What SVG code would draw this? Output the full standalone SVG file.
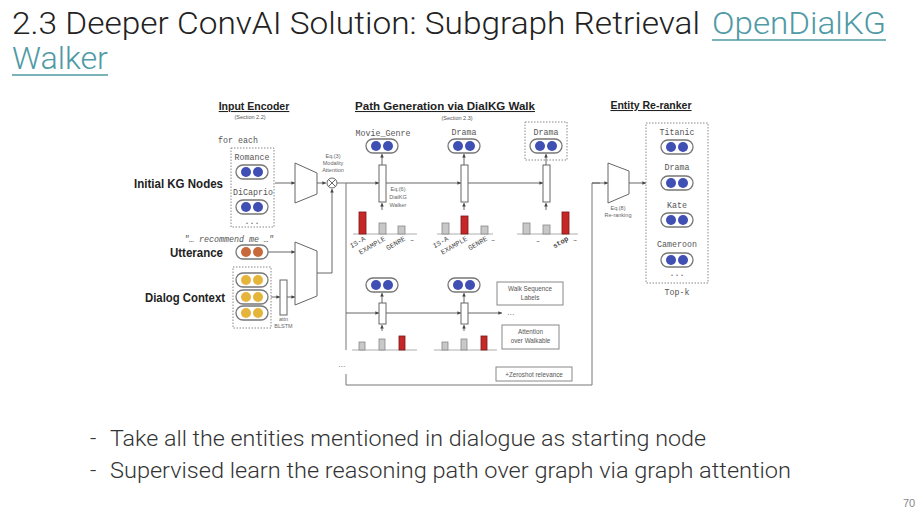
<svg xmlns="http://www.w3.org/2000/svg" width="920" height="510" viewBox="0 0 920 510">
<style>
.ttl{font-family:Roboto,"Open Sans","Liberation Sans",sans-serif;font-weight:300;font-size:31px;fill:#222}
.lnk{fill:#4f9aa5}
.bul{font-family:Roboto,"Open Sans","Liberation Sans",sans-serif;font-weight:300;font-size:22px;fill:#333}
.hdr{font-family:"Liberation Sans",Arial,sans-serif;font-weight:bold;font-size:10.5px;fill:#222;text-decoration:underline}
.sec{font-family:"Liberation Sans",Arial,sans-serif;font-size:5.5px;fill:#555}
.big{font-family:"Liberation Sans",Arial,sans-serif;font-weight:bold;font-size:12px;fill:#222}
.mono{font-family:"Liberation Mono","DejaVu Sans Mono",monospace;font-size:8.3px;fill:#555}
.rl{font-family:"Liberation Mono","DejaVu Sans Mono",monospace;font-size:7px;fill:#444}
.sm{font-family:"Liberation Sans",Arial,sans-serif;font-size:5.5px;fill:#666}
.dots{font-family:"Liberation Sans",Arial,sans-serif;font-size:9px;fill:#888}
.bx{font-family:"Liberation Sans",Arial,sans-serif;font-size:6.3px;fill:#555}
.ln{stroke:#777;stroke-width:1;fill:none}
.ar{stroke:#555;stroke-width:0.9;fill:none;marker-end:url(#ah)}
.pill{fill:#fff;stroke:#777;stroke-width:1.3}
.dash{fill:none;stroke:#888;stroke-width:1;stroke-dasharray:1.5,1.5}
.trap{fill:#fff;stroke:#666;stroke-width:1}
.wk{fill:#fff;stroke:#666;stroke-width:1}
.gb{fill:#c8c8c8;stroke:#888;stroke-width:0.8}
.rb{fill:#c62828;stroke:#7b1515;stroke-width:0.8}
.axis{stroke:#999;stroke-width:0.8}
.box{fill:#fff;stroke:#888;stroke-width:1}
</style>
<defs>
<marker id="ah" viewBox="0 0 6 6" refX="6" refY="3" markerWidth="4" markerHeight="4" orient="auto"><path d="M0,0 L6,3 L0,6z" fill="#444"/></marker>
<g id="pb"><rect x="-16" y="-7" width="32" height="14" rx="7" class="pill"/><circle cx="-6" cy="0" r="5" fill="#3f4fb3"/><circle cx="6" cy="0" r="5" fill="#3f4fb3"/></g>
<g id="po"><rect x="-16" y="-7" width="32" height="14" rx="7" class="pill"/><circle cx="-6" cy="0" r="5" fill="#c8693c"/><circle cx="6" cy="0" r="5" fill="#c8693c"/></g>
<g id="py"><rect x="-16" y="-7" width="32" height="14" rx="7" class="pill"/><circle cx="-6" cy="0" r="5" fill="#e4b53a"/><circle cx="6" cy="0" r="5" fill="#e4b53a"/></g>
</defs>
<rect width="920" height="510" fill="#fff"/>

<g id="title">
<text class="ttl" x="12" y="34" textLength="688" lengthAdjust="spacingAndGlyphs">2.3 Deeper ConvAI Solution: Subgraph Retrieval</text>
<text class="ttl lnk" x="712" y="34" textLength="174" lengthAdjust="spacingAndGlyphs">OpenDialKG</text>
<text class="ttl lnk" x="12" y="69" textLength="96" lengthAdjust="spacingAndGlyphs">Walker</text>
<line x1="712" y1="40" x2="886" y2="40" stroke="#4f9aa5" stroke-width="1.5"/>
<line x1="12" y1="75" x2="108" y2="75" stroke="#4f9aa5" stroke-width="1.5"/>
</g>

<g id="headers">
<text class="hdr" x="254" y="110" text-anchor="middle">Input Encoder</text>
<text class="sec" x="250" y="119" text-anchor="middle">(Section 2.2)</text>
<text class="hdr" x="445" y="110" text-anchor="middle" textLength="180" lengthAdjust="spacingAndGlyphs">Path Generation via DialKG Walk</text>
<text class="sec" x="457" y="120" text-anchor="middle">(Section 2.3)</text>
<text class="hdr" x="651" y="109" text-anchor="middle">Entity Re-ranker</text>
</g>

<g id="connectors">
<line class="ar" x1="275" y1="183" x2="295" y2="183"/>
<line class="ar" x1="317" y1="183" x2="326" y2="183"/>
<line class="ar" x1="267" y1="252" x2="295" y2="252"/>
<line class="ar" x1="271" y1="297" x2="280" y2="297"/>
<line class="ar" x1="287" y1="297" x2="295" y2="297"/>
<polyline class="ar" points="317,273 332,273 332,189"/>
<line class="ln" x1="337" y1="183" x2="346" y2="183"/>
<line class="ar" x1="346" y1="183" x2="379" y2="183"/>
<line class="ar" x1="386" y1="183" x2="461" y2="183"/>
<line class="ar" x1="467" y1="183" x2="543" y2="183"/>
<polyline class="ln" points="346,183 346,350"/>
<polyline class="ln" points="346,374 346,385 592,385 592,183 600,183"/>
<line class="ar" x1="592" y1="183" x2="608" y2="183"/>
<line class="ar" x1="629" y1="183" x2="646" y2="183"/>
<line class="ar" x1="346" y1="313" x2="379" y2="313"/>
<line class="ar" x1="386" y1="313" x2="461" y2="313"/>
<line class="ar" x1="467" y1="313" x2="502" y2="313"/>
<line class="ar" x1="382" y1="165" x2="382" y2="154"/>
<line class="ar" x1="464" y1="165" x2="464" y2="154"/>
<line class="ar" x1="546" y1="165" x2="546" y2="154"/>
<line class="ar" x1="382" y1="210" x2="382" y2="203"/>
<line class="ar" x1="464" y1="210" x2="464" y2="203"/>
<line class="ar" x1="546" y1="210" x2="546" y2="203"/>
<line class="ar" x1="382" y1="303" x2="382" y2="293"/>
<line class="ar" x1="464" y1="303" x2="464" y2="293"/>
<line class="ar" x1="382" y1="331" x2="382" y2="325"/>
<line class="ar" x1="464" y1="331" x2="464" y2="325"/>
</g>

<g id="initial-kg-nodes">
<text class="big" x="134" y="188" textLength="89" lengthAdjust="spacingAndGlyphs">Initial KG Nodes</text>
<text class="mono" x="238" y="143" text-anchor="middle">for each</text>
<rect class="dash" x="231" y="148" width="43" height="79"/>
<text class="mono" x="252" y="160" text-anchor="middle">Romance</text>
<use href="#pb" x="252" y="172"/>
<text class="mono" x="253" y="195" text-anchor="middle">DiCaprio</text>
<use href="#pb" x="252" y="207"/>
<text class="mono" x="252" y="224" text-anchor="middle">...</text>
</g>

<g id="utterance">
<text class="big" x="170" y="257" textLength="53" lengthAdjust="spacingAndGlyphs">Utterance</text>
<text class="mono" x="229" y="242" text-anchor="middle" font-style="italic">"… recommend me …"</text>
<use href="#po" x="252" y="252"/>
</g>

<g id="dialog-context">
<text class="big" x="145" y="302" textLength="80" lengthAdjust="spacingAndGlyphs">Dialog Context</text>
<rect class="dash" x="233" y="267" width="38" height="61"/>
<use href="#py" x="252" y="280"/>
<use href="#py" x="252" y="297"/>
<use href="#py" x="252" y="313"/>
<rect class="wk" x="280" y="280" width="7" height="35"/>
<text class="sm" x="283.5" y="321" text-anchor="middle">attn</text>
<text class="sm" x="283.5" y="328" text-anchor="middle">BLSTM</text>
</g>

<g id="encoders">
<path class="trap" d="M295,163 L317,173 L317,194 L295,203 Z"/>
<path class="trap" d="M295,242 L317,251 L317,296 L295,305 Z"/>
</g>

<g id="modality-attention">
<text class="sm" x="333" y="158" text-anchor="middle">Eq.(3)</text>
<text class="sm" x="333" y="165" text-anchor="middle">Modality</text>
<text class="sm" x="333" y="172" text-anchor="middle">Attention</text>
<circle cx="332" cy="183" r="5" fill="#fff" stroke="#555" stroke-width="0.9"/>
<path d="M328.5,179.5 L335.5,186.5 M335.5,179.5 L328.5,186.5" stroke="#555" stroke-width="0.9"/>
</g>

<g id="walk-step-1">
<text class="mono" x="383" y="136" text-anchor="middle">Movie_Genre</text>
<use href="#pb" x="382" y="146"/>
<rect class="wk" x="379" y="165" width="7" height="37"/>
<text class="sm" x="398" y="191" text-anchor="middle">Eq.(6)</text>
<text class="sm" x="398" y="199" text-anchor="middle">DialKG</text>
<text class="sm" x="398" y="207" text-anchor="middle">Walker</text>
<line class="axis" x1="353" y1="234" x2="417" y2="234"/>
<rect class="rb" x="359" y="212" width="7" height="22"/>
<rect class="gb" x="379" y="223" width="7" height="11"/>
<rect class="gb" x="398" y="226" width="7" height="8"/>
<text class="rl" text-anchor="end" transform="translate(366,240) rotate(-30)">IS-A</text>
<text class="rl" text-anchor="end" transform="translate(386,240) rotate(-30)">EXAMPLE</text>
<text class="rl" text-anchor="end" transform="translate(406,240) rotate(-30)">GENRE</text>
<text class="rl" x="410" y="242">–</text>
</g>

<g id="walk-step-2">
<text class="mono" x="464" y="135" text-anchor="middle">Drama</text>
<use href="#pb" x="464" y="146"/>
<rect class="wk" x="461" y="165" width="7" height="37"/>
<line class="axis" x1="437" y1="234" x2="493" y2="234"/>
<rect class="gb" x="442" y="223" width="7" height="11"/>
<rect class="rb" x="461" y="216" width="7" height="18"/>
<rect class="gb" x="481" y="226" width="7" height="8"/>
<text class="rl" text-anchor="end" transform="translate(449,240) rotate(-30)">IS-A</text>
<text class="rl" text-anchor="end" transform="translate(468,240) rotate(-30)">EXAMPLE</text>
<text class="rl" text-anchor="end" transform="translate(488,240) rotate(-30)">GENRE</text>
<text class="rl" x="491" y="242">–</text>
</g>

<g id="walk-step-3">
<rect class="dash" x="525" y="122" width="42" height="38"/>
<text class="mono" x="546" y="135" text-anchor="middle">Drama</text>
<use href="#pb" x="546" y="146"/>
<rect class="wk" x="543" y="165" width="7" height="37"/>
<line class="axis" x1="517" y1="234" x2="578" y2="234"/>
<rect class="gb" x="523" y="223" width="7" height="11"/>
<rect class="gb" x="543" y="225" width="7" height="9"/>
<rect class="rb" x="562" y="212" width="7" height="22"/>
<text class="rl" x="536" y="243">–</text>
<text class="rl" font-weight="bold" text-anchor="end" transform="translate(569,240) rotate(-30)">stop</text>
<text class="rl" x="573" y="242">–</text>
</g>

<g id="walk-row-2">
<use href="#pb" x="382" y="285"/>
<rect class="wk" x="379" y="303" width="7" height="21"/>
<line class="axis" x1="352" y1="350" x2="417" y2="350"/>
<rect class="gb" x="359" y="342" width="6" height="8"/>
<rect class="gb" x="379" y="339" width="6" height="11"/>
<rect class="rb" x="399" y="336" width="6" height="14"/>
<use href="#pb" x="464" y="285"/>
<rect class="wk" x="461" y="303" width="7" height="21"/>
<line class="axis" x1="434" y1="350" x2="497" y2="350"/>
<rect class="gb" x="442" y="342" width="6" height="8"/>
<rect class="gb" x="461" y="339" width="6" height="11"/>
<rect class="rb" x="481" y="336" width="6" height="14"/>
<text class="dots" x="507" y="315">...</text>
<text class="dots" x="338" y="367">...</text>
</g>

<g id="legend-walk-sequence">
<rect class="box" x="497" y="282" width="66" height="23"/>
<text class="bx" x="530" y="291" text-anchor="middle">Walk Sequence</text>
<text class="bx" x="530" y="300" text-anchor="middle">Labels</text>
</g>
<g id="legend-attention">
<rect class="box" x="502" y="325" width="57" height="24"/>
<text class="bx" x="530.5" y="334" text-anchor="middle">Attention</text>
<text class="bx" x="530.5" y="343" text-anchor="middle">over Walkable</text>
</g>
<g id="legend-zeroshot">
<rect class="box" x="496" y="367" width="76" height="14"/>
<text class="bx" x="534" y="376.5" text-anchor="middle">+Zeroshot relevance</text>
</g>

<g id="reranker">
<path class="trap" d="M608,163 L629,171 L629,194 L608,203 Z"/>
<text class="sm" x="618" y="210" text-anchor="middle">Eq.(8)</text>
<text class="sm" x="618" y="217" text-anchor="middle">Re-ranking</text>
</g>

<g id="top-k-entities">
<rect class="dash" x="646" y="123" width="62" height="160"/>
<text class="mono" x="677" y="135" text-anchor="middle">Titanic</text>
<use href="#pb" x="677" y="147"/>
<text class="mono" x="677" y="170" text-anchor="middle">Drama</text>
<use href="#pb" x="677" y="183"/>
<text class="mono" x="677" y="208" text-anchor="middle">Kate</text>
<use href="#pb" x="677" y="220"/>
<text class="mono" x="677" y="247" text-anchor="middle">Cameroon</text>
<use href="#pb" x="677" y="260"/>
<text class="mono" x="677" y="276" text-anchor="middle">...</text>
<text class="mono" x="677" y="295" text-anchor="middle">Top-k</text>
</g>

<g id="bullets">
<text class="bul" x="90" y="446">-</text>
<text class="bul" x="110" y="446" textLength="596" lengthAdjust="spacingAndGlyphs">Take all the entities mentioned in dialogue as starting node</text>
<text class="bul" x="90" y="478">-</text>
<text class="bul" x="110" y="478" textLength="681" lengthAdjust="spacingAndGlyphs">Supervised learn the reasoning path over graph via graph attention</text>
<text x="903" y="507" font-family="Liberation Sans,Arial,sans-serif" font-size="11" fill="#888">70</text>
</g>
</svg>
